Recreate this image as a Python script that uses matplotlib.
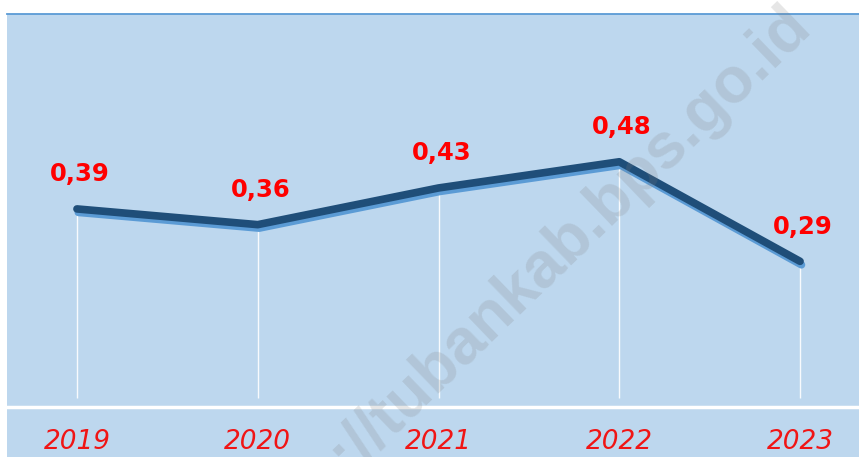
import matplotlib
matplotlib.use("Agg")
import matplotlib.pyplot as plt
import matplotlib.patheffects as pe
from matplotlib.patches import Rectangle
from matplotlib.lines import Line2D

years = ["2019", "2020", "2021", "2022", "2023"]
values = [0.39, 0.36, 0.43, 0.48, 0.29]

W, H = 859, 457
fig = plt.figure(figsize=(W / 100, H / 100), dpi=100)
fig.patch.set_facecolor("white")

# light blue panel + thin blue line on top
fig.patches.append(Rectangle((7 / W, 0), 1, (H - 14) / H, transform=fig.transFigure,
                             facecolor="#BDD7EE", edgecolor="none", zorder=-2))
fig.lines.append(Line2D([7 / W, 1], [(H - 14) / H] * 2, transform=fig.transFigure,
                        color="#5B9BD5", lw=1.3, zorder=-1))

ax = fig.add_axes([7 / W, 50 / H, (W - 7) / W, (407 - 14) / H])
ax.set_facecolor("none")
x = list(range(len(years)))

ax.vlines(x, 0.03, values, color="white", lw=1, alpha=0.9, zorder=1)
ax.plot(x, values, color="#1F4E79", lw=5.5, solid_capstyle="round", solid_joinstyle="round",
        zorder=3,
        path_effects=[pe.SimpleLineShadow(offset=(1, -2.5), shadow_color="#5B9BD5", alpha=1),
                      pe.Normal()])

for i, v in zip(x, values):
    ax.annotate(f"{v:.2f}".replace(".", ","), (i, v), xytext=(2, 25), textcoords="offset points",
                ha="center", va="center", color="red", fontweight="bold", fontsize=17.5)

ax.set_xlim(-0.387, 4.326)
ax.set_ylim(0.012, 0.762)
ax.set_yticks([])
ax.set_xticks(x)
ax.set_xticklabels(years, fontstyle="italic", fontsize=19, color="#F01515")
ax.tick_params(axis="x", length=0, pad=16)
for s in ["top", "left", "right"]:
    ax.spines[s].set_visible(False)
ax.spines["bottom"].set_color("white")
ax.spines["bottom"].set_linewidth(2.5)

# watermark
fig.text(514 / W, 1 - 293 / H, "https://tubankab.bps.go.id", rotation=44, rotation_mode="anchor",
         ha="center", va="center", fontsize=46, fontweight="bold", family="Liberation Sans",
         color="#808080", alpha=0.2, zorder=10)

fig.savefig("out.png", dpi=100)
